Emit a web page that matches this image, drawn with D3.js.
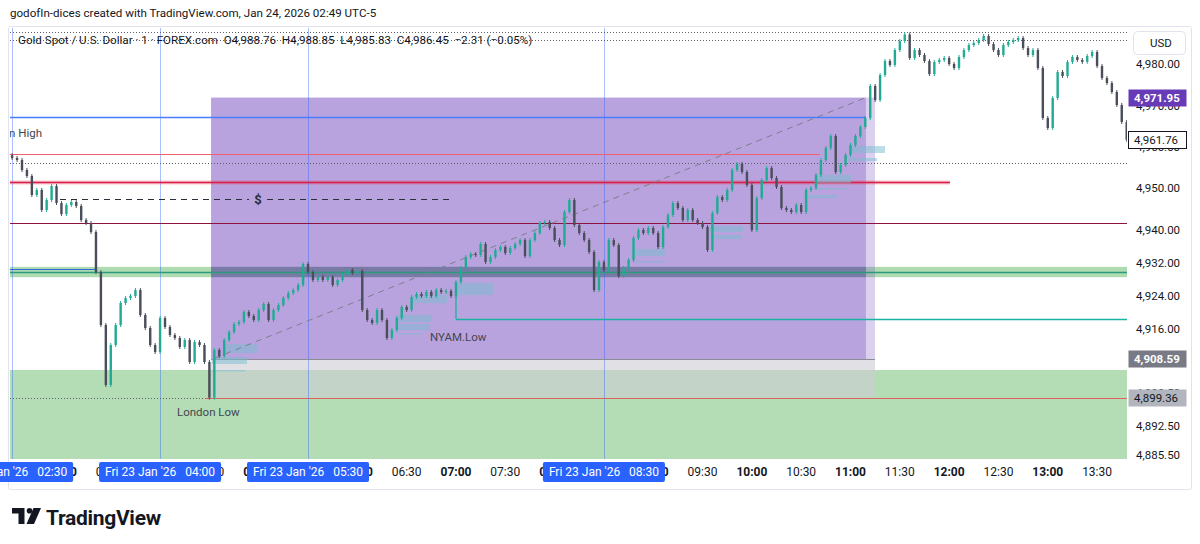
<!DOCTYPE html>
<html><head><meta charset="utf-8">
<script src="https://cdn.jsdelivr.net/npm/d3@7"></script>
<style>
html,body{margin:0;padding:0;background:#fff;}
svg{display:block;font-family:Roboto,"Liberation Sans",sans-serif;}
</style></head><body>
<svg id="chart" width="1200" height="544"></svg>
<script>
// ---------------- DATA ----------------
const titleText = "godofIn-dices created with TradingView.com, Jan 24, 2026 02:49 UTC-5";
const legendText = "Gold Spot / U.S. Dollar · 1 · FOREX.com  O4,988.76  H4,988.85  L4,985.83  C4,986.45  −2.31 (−0.05%)";
const sessionDate = "Fri 23 Jan '26";
const startTime = "02:30";        // first bar
const barMinutes = 3;             // bar spacing of the closes below
const firstOpen = 4958.0;
const closes = [
 4957.33,4956.85,4954.43,4952.98,4948.38,4949.59,4944.75,4947.17,4950.56,4946.44,
 4943.78,4945.96,4946.69,4945.72,4942.33,4941.61,4939.43,4929.75,4916.93,4902.42,
 4912.09,4916.93,4922.25,4923.46,4923.95,4925.40,4919.35,4916.21,4912.09,4910.40,
 4918.63,4916.45,4914.51,4913.79,4911.61,4913.30,4907.98,4912.82,4912.09,4907.98,
 4899.36,4910.88,4909.43,4913.30,4915.24,4917.17,4917.66,4920.08,4919.11,4918.14,
 4920.56,4922.01,4918.14,4920.56,4921.77,4923.46,4924.67,4925.40,4926.61,4931.69,
 4929.75,4927.82,4928.54,4927.82,4928.54,4926.61,4927.82,4929.03,4930.24,4929.51,
 4929.99,4920.56,4918.14,4917.42,4920.56,4918.14,4913.79,4915.72,4918.63,4921.29,
 4920.56,4923.71,4924.43,4923.95,4924.92,4923.95,4925.40,4924.92,4925.16,4923.95,
 4927.33,4930.72,4933.38,4934.11,4933.87,4936.53,4932.17,4933.38,4935.07,4935.80,
 4934.35,4935.56,4936.53,4937.49,4933.62,4937.49,4939.19,4941.61,4941.85,4940.40,
 4937.49,4936.28,4944.27,4947.17,4941.12,4939.19,4937.49,4934.59,4925.40,4932.17,
 4930.24,4937.49,4936.28,4928.79,4930.72,4932.66,4937.98,4939.91,4939.19,4940.40,
 4939.19,4935.80,4940.64,4943.54,4946.44,4945.23,4942.33,4944.75,4942.33,4941.61,
 4940.64,4935.07,4944.03,4947.90,4947.17,4949.59,4954.43,4955.88,4953.94,4950.80,
 4939.91,4947.65,4952.01,4954.91,4952.49,4950.31,4945.23,4944.75,4944.27,4945.96,
 4944.27,4949.59,4950.07,4953.22,4956.85,4959.75,4962.65,4953.94,4955.64,4958.06,
 4960.47,4962.65,4964.83,4967.01,4974.75,4971.36,4977.41,4980.79,4979.83,4983.45,
 4985.63,4987.20,4981.52,4983.45,4982.25,4980.79,4977.65,4980.55,4981.04,4981.52,
 4980.07,4979.10,4981.76,4983.45,4984.66,4985.15,4985.87,4986.84,4984.91,4983.45,
 4982.25,4984.66,4985.39,4985.87,4986.36,4983.94,4982.25,4983.45,4979.10,4967.01,
 4964.59,4971.84,4978.13,4977.17,4980.55,4981.76,4981.04,4980.60,4982.00,4982.97,
 4979.58,4976.68,4975.47,4973.30,4970.15,4966.04,4961.76
];
const viewTime = ["02:28.7","13:48.2"];
const viewPrice = [4884.52, 4988.78];
const timeTicks = ["02:30","03:00","03:30","04:00","04:30","05:00","05:30","06:00","06:30","07:00","07:30","08:00","08:30","09:00","09:30","10:00","10:30","11:00","11:30","12:00","12:30","13:00","13:30"];
const priceTicks = [4980,4970,4960,4950,4940,4932,4924,4916,4908,4900.5,4892.5,4885.5];
const sessionStarts = ["02:30","04:00","05:30","08:30"];
const priceTags = [4971.95, 4961.76, 4908.59, 4899.36];
const priceTagKinds = ["box","last","boxLow","londonLow"];

// zones: [id, fromTime, toTime, lowPrice, highPrice]
const zones = [
 ["discount","02:28.7","13:48.2",4884.52,4906.05],
 ["eqBand","02:28.7","13:48.2",4928.5,4931.0],
 ["range","04:31.0","11:09.4",4908.59,4971.95],
 ["rangeExt","11:09.4","11:14.9",4908.59,4971.95],
 ["rangeEq","04:31.0","11:09.4",4928.5,4931.0],
 ["lowGap","04:31.0","11:14.9",4899.36,4908.59]
];
// levels: [id, price, fromTime, toTime]
const levels = [
 ["dot1",4987.9,"02:28.7","13:48.2"],
 ["dot2",4985.8,"02:28.7","13:48.2"],
 ["blueHigh",4967.25,"02:28.7","11:09.4"],
 ["redThin",4958.22,"02:28.7","10:41.4"],
 ["dot3",4956.12,"02:28.7","13:48.2"],
 ["redThickHalo",4951.45,"02:28.7","12:00.5"],
 ["redThick",4951.45,"02:28.7","12:00.5"],
 ["maroon",4941.54,"02:28.7","13:48.2"],
 ["blueLow",4930.6,"02:28.7","03:20.4"],
 ["eqLine",4929.76,"02:28.7","13:48.2"],
 ["nyam",4918.38,"07:00.0","13:48.2"],
 ["rangeBottom",4908.59,"04:31.0","11:14.9"],
 ["londonLow",4899.36,"04:27.3","13:48.2"],
 ["londonLowDot",4899.36,"02:28.7","04:27.3"]
];
const liquidity = {price:4947.41, from:"02:59.1", to:"06:57.6", label:"$", at:"04:59.6"};
const nyamStep = {time:"07:00.0", from:4923.95, to:4918.38};
const trend = {t0:"04:33.4", p0:4908.95, t1:"11:09.4", p1:4971.95};
// small imbalance boxes: [fromTime, toTime, lowPrice, highPrice]
const blocks = [
 ["04:38.3","04:59.0",4910.16,4912.34],
 ["04:31.6","04:52.9",4907.50,4909.19],
 ["04:31.6","04:51.7",4905.80,4906.05],
 ["06:33.9","06:54.5",4922.25,4924.19],
 ["06:24.7","06:45.4",4917.66,4919.35],
 ["06:24.1","06:44.2",4915.72,4917.17],
 ["06:24.1","06:39.3",4914.76,4915.00],
 ["07:01.2","07:22.5",4924.19,4927.09],
 ["08:47.7","09:07.2",4933.62,4935.32],
 ["08:47.7","09:07.2",4932.17,4932.41],
 ["09:33.9","09:54.6",4939.43,4940.88],
 ["09:33.9","09:54.0",4937.74,4938.70],
 ["10:38.4","11:00.3",4951.28,4953.22],
 ["10:38.4","10:58.5",4949.83,4950.07],
 ["10:31.1","10:51.8",4947.65,4948.38],
 ["11:00.9","11:21.0",4958.54,4960.23],
 ["10:58.5","11:16.1",4956.60,4957.33]
];
const notes = [
 ["London High","02:48.2",4962.4,"end"],
 ["London Low","04:10.3",4894.92,"start"],
 ["NYAM.Low","06:44.2",4913.07,"start"]
];

// ---------------- STYLES ----------------
const plot = {left:10,right:1127,top:28,bottom:459};
const zoneStyle = {
 discount:{fill:"rgba(76,175,80,0.42)"},
 eqBand:{fill:"rgba(76,175,80,0.45)"},
 range:{fill:"rgba(126,87,194,0.55)"},
 rangeExt:{fill:"rgba(126,87,194,0.28)"},
 rangeEq:{fill:"rgba(70,80,130,0.35)"},
 lowGap:{fill:"rgba(205,205,212,0.6)"}
};
const levelStyle = {
 dot1:{stroke:"#5d606b",w:1,dash:"1,2"},
 dot2:{stroke:"#5d606b",w:1,dash:"1,2"},
 blueHigh:{stroke:"#4a7cff",w:1.3},
 redThin:{stroke:"#f0606e",w:1},
 dot3:{stroke:"#5d606b",w:1,dash:"1,2"},
 redThickHalo:{stroke:"rgba(242,54,69,0.3)",w:4},
 redThick:{stroke:"#d82050",w:1.5},
 maroon:{stroke:"#8e1240",w:1},
 blueLow:{stroke:"#2f68d8",w:1.2},
 eqLine:{stroke:"#2c9a7c",w:1.5},
 nyam:{stroke:"#19b3a3",w:1.3},
 rangeBottom:{stroke:"#8c8c96",w:1},
 londonLow:{stroke:"#e06060",w:1},
 londonLowDot:{stroke:"#5d606b",w:1,dash:"1,2"}
};
const tagStyle = {
 box:{fill:"#673ab7",stroke:"none",text:"#ffffff",weight:700},
 last:{fill:"#ffffff",stroke:"#131722",text:"#131722",weight:400},
 boxLow:{fill:"#787b86",stroke:"none",text:"#ffffff",weight:700},
 londonLow:{fill:"#b2b5be",stroke:"none",text:"#131722",weight:400}
};

// ---------------- SCALES ----------------
const toMin = s => { const [h,m]=s.split(":").map(Number); return h*60+m; };
const x = d3.scaleLinear().domain(viewTime.map(toMin)).range([plot.left,plot.right]);
const y = d3.scaleLinear().domain(viewPrice).range([plot.bottom,plot.top]);
const fmt = d3.format(",.2f");

const svg = d3.select("#chart");
svg.append("rect").attr("width",1200).attr("height",544).attr("fill","#fff");

// title
svg.append("text").attr("x",10).attr("y",17).attr("font-size",11.6).attr("fill","#131722").text(titleText);

// frame
svg.append("rect").attr("x",8.5).attr("y",26.5).attr("width",1183).attr("height",463)
  .attr("fill","none").attr("stroke","#e0e3eb").attr("rx",2);

const defs = svg.append("defs");
defs.append("clipPath").attr("id","plotClip").append("rect")
  .attr("x",plot.left).attr("y",plot.top).attr("width",plot.right-plot.left).attr("height",plot.bottom-plot.top);
const g = svg.append("g").attr("clip-path","url(#plotClip)");

// zones
g.selectAll("rect.zone").data(zones).join("rect").attr("class","zone")
  .attr("x",d=>x(toMin(d[1]))).attr("width",d=>x(toMin(d[2]))-x(toMin(d[1])))
  .attr("y",d=>y(d[4])).attr("height",d=>y(d[3])-y(d[4]))
  .attr("fill",d=>zoneStyle[d[0]].fill);

// session separators
g.selectAll("line.sess").data(sessionStarts).join("line").attr("class","sess")
  .attr("x1",d=>Math.round(x(toMin(d)))+0.5).attr("x2",d=>Math.round(x(toMin(d)))+0.5)
  .attr("y1",plot.top).attr("y2",plot.bottom)
  .attr("stroke","rgba(41,98,255,0.4)").attr("stroke-width",1);

// levels
g.selectAll("line.lvl").data(levels).join("line").attr("class","lvl")
  .attr("x1",d=>x(toMin(d[2]))).attr("x2",d=>x(toMin(d[3])))
  .attr("y1",d=>Math.round(y(d[1]))+0.5).attr("y2",d=>Math.round(y(d[1]))+0.5)
  .attr("stroke",d=>levelStyle[d[0]].stroke).attr("stroke-width",d=>levelStyle[d[0]].w)
  .attr("stroke-dasharray",d=>levelStyle[d[0]].dash||null);

// NYAM step
g.append("line").attr("x1",x(toMin(nyamStep.time))).attr("x2",x(toMin(nyamStep.time)))
  .attr("y1",y(nyamStep.from)).attr("y2",y(nyamStep.to)).attr("stroke","#19b3a3").attr("stroke-width",1.3);

// liquidity dashed line with label
{
  const ly = Math.round(y(liquidity.price))+0.5, lx = x(toMin(liquidity.at));
  g.append("line").attr("x1",x(toMin(liquidity.from))).attr("x2",lx-9).attr("y1",ly).attr("y2",ly)
    .attr("stroke","#2a2e39").attr("stroke-width",1.2).attr("stroke-dasharray","6,5");
  g.append("line").attr("x1",lx+9).attr("x2",x(toMin(liquidity.to))).attr("y1",ly).attr("y2",ly)
    .attr("stroke","#2a2e39").attr("stroke-width",1.2).attr("stroke-dasharray","6,5");
  g.append("text").attr("x",lx).attr("y",ly+4.5).attr("text-anchor","middle")
    .attr("font-size",13).attr("font-weight",700).attr("fill","#2a2e39").text(liquidity.label);
}

// imbalance blocks
g.selectAll("rect.blk").data(blocks).join("rect").attr("class","blk")
  .attr("x",d=>x(toMin(d[0]))).attr("width",d=>x(toMin(d[1]))-x(toMin(d[0])))
  .attr("y",d=>y(d[3])).attr("height",d=>Math.max(1.5,y(d[2])-y(d[3])))
  .attr("fill","rgba(120,190,205,0.5)");

// trend line
g.append("line").attr("x1",x(toMin(trend.t0))).attr("y1",y(trend.p0))
  .attr("x2",x(toMin(trend.t1))).attr("y2",y(trend.p1))
  .attr("stroke","#7d7f8c").attr("stroke-width",1).attr("stroke-dasharray","6,5");

// candles
const t0 = toMin(startTime);
const bars = closes.map((c,i)=>({t:t0+i*barMinutes, o:i?closes[i-1]:firstOpen, c}));
const cg = g.append("g");
cg.selectAll("line.wick").data(bars).join("line").attr("class","wick")
  .attr("x1",d=>x(d.t)).attr("x2",d=>x(d.t))
  .attr("y1",d=>y(Math.max(d.o,d.c))-2).attr("y2",d=>y(Math.min(d.o,d.c))+2)
  .attr("stroke",d=>d.c>=d.o?"#22ab94":"#4a4e5a").attr("stroke-width",1);
cg.selectAll("rect.body").data(bars).join("rect").attr("class","body")
  .attr("x",d=>x(d.t)-1.2).attr("width",2.4)
  .attr("y",d=>y(Math.max(d.o,d.c))).attr("height",d=>Math.max(1,Math.abs(y(d.o)-y(d.c))))
  .attr("fill",d=>d.c>=d.o?"#22ab94":"#4a4e5a");

// notes
g.selectAll("text.note").data(notes).join("text").attr("class","note")
  .attr("x",d=>x(toMin(d[1]))).attr("y",d=>y(d[2])).attr("text-anchor",d=>d[3])
  .attr("font-size",11.5).attr("fill","#434651").text(d=>d[0]);

// legend
svg.append("text").attr("x",18).attr("y",44).attr("font-size",11.6).attr("fill","#131722")
  .style("white-space","pre").text(legendText);

// ---------------- PRICE AXIS ----------------
svg.selectAll("text.pt").data(priceTicks).join("text").attr("class","pt")
  .attr("x",1136).attr("y",d=>y(d)+4).attr("font-size",11.5).attr("fill","#131722")
  .text(d=>fmt(d));
const usd = svg.append("g");
usd.append("rect").attr("x",1133.5).attr("y",31.5).attr("width",52).attr("height",23).attr("rx",4)
  .attr("fill","#fff").attr("stroke","#e0e3eb");
usd.append("text").attr("x",1150).attr("y",47).attr("font-size",11.5).attr("fill","#131722").text("USD");

priceTags.forEach((p,i)=>{
  const s = tagStyle[priceTagKinds[i]];
  const cy = y(p);
  svg.append("rect").attr("x",1128.5).attr("y",Math.round(cy-9)+0.5).attr("width",58).attr("height",17)
    .attr("fill",s.fill).attr("stroke",s.stroke);
  svg.append("text").attr("x",1134).attr("y",cy+4).attr("font-size",11.5).attr("font-weight",s.weight)
    .attr("fill",s.text).text(fmt(p));
});

// ---------------- TIME AXIS ----------------
svg.selectAll("text.tt").data(timeTicks).join("text").attr("class","tt")
  .attr("x",d=>x(toMin(d))).attr("y",476).attr("text-anchor","middle").attr("font-size",12)
  .attr("font-weight",d=>d.endsWith(":00")?700:400).attr("fill","#131722").text(d=>d);
sessionStarts.forEach(s=>{
  const cx = x(toMin(s));
  const sg = svg.append("g");
  const t = sg.append("text").attr("x",cx).attr("y",476).attr("text-anchor","middle")
    .attr("font-size",12).attr("fill","#fff").style("white-space","pre").text(sessionDate+"   "+s);
  const w = t.node().getComputedTextLength()+12;
  sg.insert("rect","text").attr("x",cx-w/2).attr("y",462).attr("width",w).attr("height",20)
    .attr("rx",2).attr("fill","#2962ff");
});

// ---------------- LOGO ----------------
const logo = svg.append("g").attr("fill","#131722");
logo.append("path").attr("d","M12 508 H24.5 V524 H18.5 V513.5 H12 Z");
logo.append("circle").attr("cx",29.5).attr("cy",510.8).attr("r",2.8);
logo.append("path").attr("d","M33.5 508 H41 L34 524 H26.5 Z");
svg.append("text").attr("x",46).attr("y",525).attr("font-size",21).attr("font-weight",700)
  .attr("fill","#131722").attr("letter-spacing","-0.3").text("TradingView");
</script>
</body></html>
